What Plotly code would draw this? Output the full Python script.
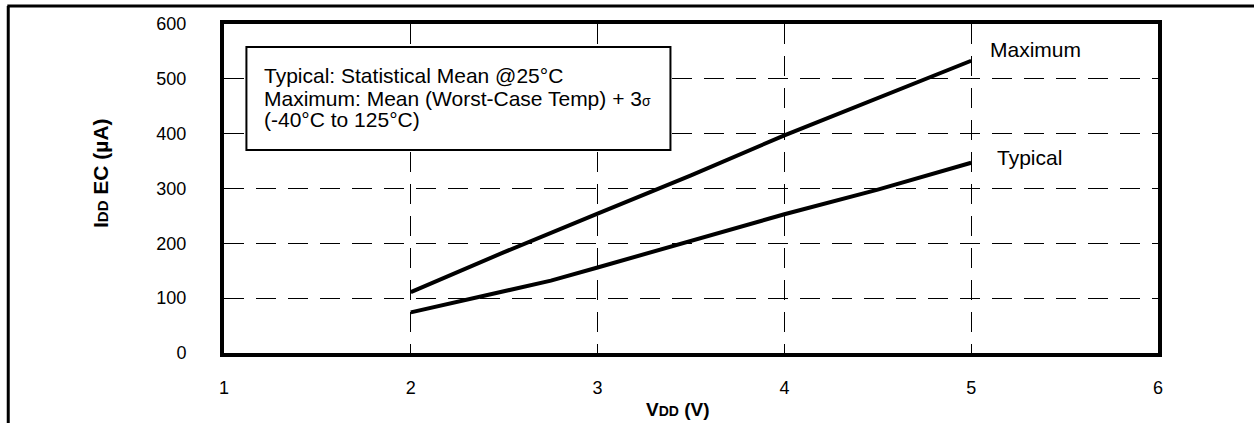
import plotly.graph_objects as go

# Data
max_vdd = [2.0, 2.5, 3.0, 3.5, 4.0, 4.5, 5.0]
max_idd = [111, 184, 254, 324, 397, 465, 533]
typ_vdd = [2.0, 2.5, 2.75, 3.0, 3.5, 4.0, 4.5, 5.0]
typ_idd = [74, 113, 132, 156, 205, 253, 298, 347]
x_ticks = [1, 2, 3, 4, 5, 6]
y_ticks = [0, 100, 200, 300, 400, 500, 600]
note_lines = [
    "Typical: Statistical Mean @25°C",
    "Maximum: Mean (Worst-Case Temp) + 3<span style='font-size:14px'>σ</span>",
    "(-40°C to 125°C)",
]

FONT = "Liberation Sans, Arial, sans-serif"

fig = go.Figure()
fig.add_trace(go.Scatter(x=max_vdd, y=max_idd, mode="lines",
                         line=dict(color="black", width=4), name="Maximum",
                         showlegend=False))
fig.add_trace(go.Scatter(x=typ_vdd, y=typ_idd, mode="lines",
                         line=dict(color="black", width=4), name="Typical",
                         showlegend=False))

axis_common = dict(
    showline=True, linecolor="black", linewidth=4, mirror=True,
    showgrid=True, gridcolor="black", gridwidth=1, griddash="20px,12px",
    zeroline=False, ticks="inside", ticklen=8, tickcolor="black", tickwidth=1,
    tickfont=dict(family=FONT, size=18, color="black"),
)

fig.update_xaxes(range=[1, 6], tickvals=x_ticks, ticklabelstandoff=15, **axis_common)
fig.update_yaxes(range=[0, 600], tickvals=y_ticks, ticklabelstandoff=30, **axis_common)

# Axis titles
fig.add_annotation(xref="paper", yref="paper", x=(678 - 224) / 934, y=-(410 - 353) / 329,
                   xanchor="center", yanchor="middle", showarrow=False,
                   text="<b>V<span style='font-size:14px'>DD</span> (V)</b>",
                   font=dict(family=FONT, size=19, color="black"))
fig.add_annotation(xref="paper", yref="paper", x=-(224 - 100) / 934, y=(353 - 173) / 329,
                   xanchor="center", yanchor="middle", showarrow=False, textangle=-90,
                   text="<b>I<span style='font-size:15px'>DD</span> EC (µA)</b>",
                   font=dict(family=FONT, size=21, color="black"))

# Note box
fig.add_shape(type="rect", xref="x", yref="y", x0=1.12, x1=3.39, y0=370, y1=558,
              line=dict(color="black", width=2), fillcolor="white", layer="above")
for txt, yv in zip(note_lines, [507, 465, 425]):
    fig.add_annotation(xref="x", yref="y", x=1.205, y=yv, xanchor="left", yanchor="middle",
                       align="left", showarrow=False, text=txt,
                       font=dict(family=FONT, size=21, color="black"))

fig.add_annotation(xref="x", yref="y", x=5.09, y=553, xanchor="left", yanchor="middle",
                   showarrow=False, text="Maximum",
                   font=dict(family=FONT, size=21, color="black"))
fig.add_annotation(xref="x", yref="y", x=5.13, y=357, xanchor="left", yanchor="middle",
                   showarrow=False, text="Typical",
                   font=dict(family=FONT, size=21, color="black"))

# Outer page frame lines
fig.add_shape(type="line", xref="paper", yref="paper", x0=-0.231, x1=-0.231,
              y0=1.055, y1=-0.3, line=dict(color="black", width=3))
fig.add_shape(type="line", xref="paper", yref="paper", x0=-0.232, x1=1.2,
              y0=1.055, y1=1.055, line=dict(color="black", width=3))

fig.update_layout(
    width=1254, height=423,
    margin=dict(l=224, r=96, t=24, b=70),
    plot_bgcolor="white", paper_bgcolor="white",
    font=dict(family=FONT, color="black"),
)

fig.write_html("out.html")
